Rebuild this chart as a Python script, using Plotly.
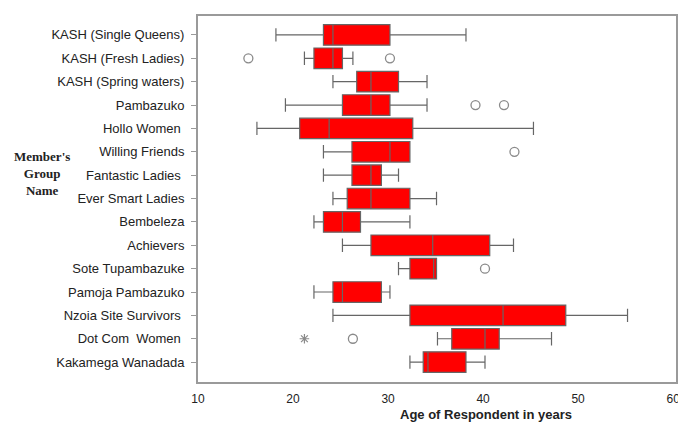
import plotly.graph_objects as go

groups = ["KASH (Single Queens)", "KASH (Fresh Ladies)", "KASH (Spring waters)", "Pambazuko",
          "Hollo Women ", "Willing Friends", "Fantastic Ladies ", "Ever Smart Ladies",
          "Bembeleza", "Achievers", "Sote Tupambazuke", "Pamoja Pambazuko",
          "Nzoia Site Survivors ", "Dot Com  Women ", "Kakamega Wanadada"]
lower = [18.2, 21.2, 24.2, 19.2, 16.2, 23.2, 23.2, 24.2, 22.2, 25.2, 31.1, 22.2, 24.2, 35.2, 32.3]
q1 = [23.2, 22.2, 26.7, 25.2, 20.7, 26.2, 26.2, 25.7, 23.2, 28.2, 32.3, 24.2, 32.3, 36.7, 33.7]
median = [24.2, 24.2, 28.2, 28.2, 23.8, 30.2, 28.2, 28.2, 25.2, 34.7, 34.8, 25.2, 42.1, 40.2, 34.2]
q3 = [30.2, 25.2, 31.1, 30.2, 32.6, 32.3, 29.3, 32.3, 27.1, 40.7, 35.1, 29.3, 48.7, 41.7, 38.2]
upper = [38.2, 26.3, 34.1, 34.1, 45.3, 32.3, 31.1, 35.1, 32.3, 43.2, 35.1, 30.2, 55.2, 47.2, 40.2]

outlier_group = ["KASH (Fresh Ladies)", "KASH (Fresh Ladies)", "Pambazuko", "Pambazuko",
                 "Willing Friends", "Sote Tupambazuke", "Dot Com  Women "]
outlier_value = [15.3, 30.2, 39.2, 42.2, 43.3, 40.2, 26.3]
extreme_group = ["Dot Com  Women "]
extreme_value = [21.2]

x_ticks = [10, 20, 30, 40, 50, 60]

fig = go.Figure()
fig.add_trace(go.Box(
    y=groups, q1=q1, median=median, q3=q3, lowerfence=lower, upperfence=upper,
    orientation="h", fillcolor="#ff0000", line=dict(color="#666666", width=1.2),
    whiskerwidth=0.65, width=0.88, boxpoints=False, showlegend=False, hoverinfo="skip"))
fig.add_trace(go.Scatter(
    x=outlier_value, y=outlier_group, mode="markers",
    marker=dict(symbol="circle-open", size=9, color="#8a8a8a", line=dict(width=1.3)),
    showlegend=False, hoverinfo="skip"))
fig.add_trace(go.Scatter(
    x=extreme_value, y=extreme_group, mode="markers",
    marker=dict(symbol="asterisk-open", size=8, color="#8a8a8a", line=dict(width=1.2)),
    showlegend=False, hoverinfo="skip"))

fig.update_layout(
    width=678, height=417, margin=dict(l=190, r=6, t=6, b=43),
    paper_bgcolor="white", plot_bgcolor="white",
    font=dict(family="Liberation Sans, Arial, sans-serif", size=12, color="#222"),
    xaxis=dict(range=[10, 60.3], tickvals=x_ticks, showgrid=False, zeroline=False,
               showline=True, linecolor="#9a9a9a", linewidth=2, mirror=True,
               ticks="", ticklabelstandoff=5, tickfont=dict(size=12, color="#222")),
    yaxis=dict(type="category", categoryorder="array", categoryarray=groups,
               range=[14.85, -0.81], showgrid=False, zeroline=False,
               showline=True, linecolor="#9a9a9a", linewidth=2, mirror=True,
               ticks="outside", ticklen=5, tickcolor="#9a9a9a", ticklabelstandoff=4,
               tickfont=dict(size=13, color="#222")),
    annotations=[
        dict(text="<b>Member's<br>Group<br>Name</b>", xref="paper", yref="paper",
             x=-0.326, y=0.57, xanchor="center", yanchor="middle", showarrow=False,
             align="center", font=dict(family="Liberation Serif, Times New Roman, serif", size=13, color="#222")),
        dict(text="<b>Age of Respondent in years</b>", xref="paper", yref="paper",
             x=0.603, y=-0.064, xanchor="center", yanchor="top", showarrow=False,
             font=dict(family="Liberation Sans, Arial, sans-serif", size=13, color="#222")),
    ],
)
fig.write_html("out.html")
